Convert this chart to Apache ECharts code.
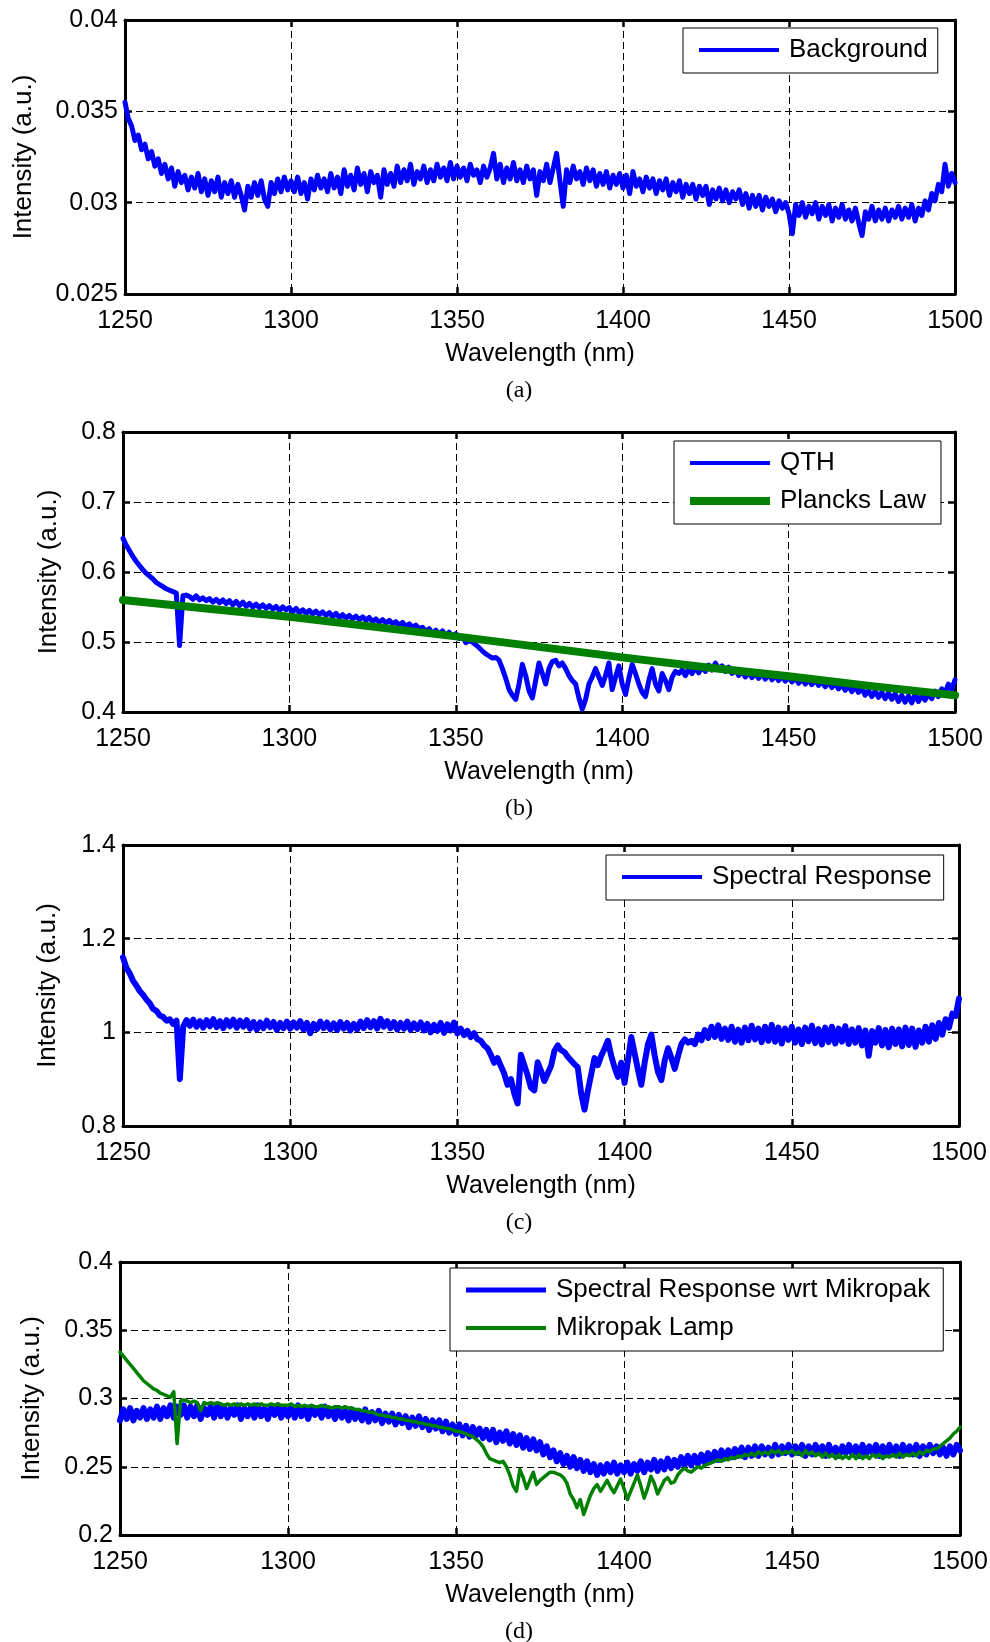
<!DOCTYPE html>
<html>
<head>
<meta charset="utf-8">
<title>Spectral response</title>
<script src="https://cdn.jsdelivr.net/npm/echarts@6/dist/echarts.min.js"></script>
<style>
  html, body { margin: 0; padding: 0; background: #fff; }
  #chart { width: 990px; height: 1642px; }
</style>
</head>
<body>
<div id="chart"></div>
<script>
// measured spectra are sampled every 1 nm from 1250 nm
var nmStart = 1250
var nmStep = 1
var xTicks = [1250, 1300, 1350, 1400, 1450, 1500]

// (a) background
var yTicksA = [0.025, 0.03, 0.035, 0.04]
var background = [
  0.0355, 0.0346, 0.0342, 0.0334, 0.0337, 0.0329, 0.0332, 0.0324, 0.0328, 0.0320,
  0.0324, 0.0316, 0.0321, 0.0313, 0.0319, 0.0309, 0.0317, 0.0311, 0.0315, 0.0307,
  0.0314, 0.0308, 0.0316, 0.0306, 0.0313, 0.0304, 0.0312, 0.0306, 0.0314, 0.0303,
  0.0311, 0.0305, 0.0312, 0.0303, 0.0310, 0.0304, 0.0296, 0.0309, 0.0303, 0.0311,
  0.0304, 0.0312, 0.0302, 0.0298, 0.0311, 0.0305, 0.0313, 0.0306, 0.0314, 0.0307,
  0.0312, 0.0306, 0.0314, 0.0305, 0.0311, 0.0302, 0.0313, 0.0307, 0.0315, 0.0308,
  0.0313, 0.0306, 0.0316, 0.0308, 0.0314, 0.0305, 0.0318, 0.0309, 0.0315, 0.0307,
  0.0319, 0.0310, 0.0316, 0.0306, 0.0317, 0.0311, 0.0315, 0.0303, 0.0318, 0.0310,
  0.0316, 0.0309, 0.0320, 0.0311, 0.0318, 0.0312, 0.0321, 0.0310, 0.0317, 0.0313,
  0.0320, 0.0311, 0.0318, 0.0312, 0.0321, 0.0314, 0.0319, 0.0312, 0.0322, 0.0313,
  0.0320, 0.0314, 0.0319, 0.0312, 0.0321, 0.0315, 0.0318, 0.0311, 0.0320, 0.0314,
  0.0319, 0.0327, 0.0313, 0.0321, 0.0311, 0.0319, 0.0313, 0.0322, 0.0312, 0.0318,
  0.0311, 0.0320, 0.0313, 0.0318, 0.0304, 0.0317, 0.0312, 0.0321, 0.0311, 0.0319,
  0.0327, 0.0312, 0.0298, 0.0318, 0.0311, 0.0320, 0.0313, 0.0317, 0.0310, 0.0319,
  0.0312, 0.0318, 0.0309, 0.0316, 0.0310, 0.0317, 0.0308, 0.0315, 0.0310, 0.0316,
  0.0308, 0.0315, 0.0305, 0.0317, 0.0309, 0.0313, 0.0306, 0.0314, 0.0308, 0.0313,
  0.0305, 0.0312, 0.0307, 0.0313, 0.0304, 0.0311, 0.0306, 0.0312, 0.0303, 0.0310,
  0.0305, 0.0310, 0.0302, 0.0309, 0.0304, 0.0309, 0.0299, 0.0307, 0.0302, 0.0308,
  0.0301, 0.0307, 0.0300, 0.0306, 0.0302, 0.0307, 0.0299, 0.0305, 0.0297, 0.0304,
  0.0298, 0.0304, 0.0296, 0.0303, 0.0298, 0.0302, 0.0295, 0.0301, 0.0297, 0.0300,
  0.0294, 0.0283, 0.0299, 0.0293, 0.0300, 0.0292, 0.0298, 0.0294, 0.0300, 0.0291,
  0.0298, 0.0293, 0.0299, 0.0290, 0.0297, 0.0292, 0.0299, 0.0291, 0.0296, 0.0290,
  0.0297, 0.0289, 0.0282, 0.0295, 0.0291, 0.0298, 0.0290, 0.0296, 0.0291, 0.0297,
  0.0290, 0.0296, 0.0292, 0.0298, 0.0291, 0.0297, 0.0292, 0.0299, 0.0290, 0.0297,
  0.0293, 0.0301, 0.0296, 0.0305, 0.0301, 0.0310, 0.0306, 0.0321, 0.0309, 0.0316,
  0.0311
]

// (b) QTH lamp and Planck's law fit
var yTicksB = [0.4, 0.5, 0.6, 0.7, 0.8]
var qth = [
  0.648, 0.638, 0.630, 0.622, 0.615, 0.609, 0.603, 0.598, 0.594, 0.590,
  0.585, 0.582, 0.579, 0.576, 0.574, 0.572, 0.570, 0.495, 0.566, 0.567,
  0.565, 0.561, 0.566, 0.560, 0.563, 0.559, 0.562, 0.557, 0.561, 0.556,
  0.560, 0.555, 0.559, 0.553, 0.558, 0.552, 0.557, 0.551, 0.555, 0.550,
  0.554, 0.549, 0.553, 0.548, 0.552, 0.547, 0.551, 0.545, 0.550, 0.546,
  0.549, 0.543, 0.548, 0.542, 0.546, 0.541, 0.545, 0.540, 0.544, 0.539,
  0.543, 0.538, 0.542, 0.536, 0.541, 0.535, 0.539, 0.534, 0.538, 0.533,
  0.537, 0.532, 0.536, 0.531, 0.535, 0.529, 0.533, 0.528, 0.532, 0.527,
  0.531, 0.526, 0.529, 0.524, 0.528, 0.522, 0.526, 0.521, 0.524, 0.519,
  0.521, 0.515, 0.519, 0.512, 0.517, 0.510, 0.516, 0.509, 0.514, 0.508,
  0.512, 0.505, 0.508, 0.499, 0.502, 0.500, 0.496, 0.492, 0.487, 0.483,
  0.480, 0.477, 0.478, 0.474, 0.462, 0.448, 0.432, 0.424, 0.418, 0.440,
  0.468, 0.452, 0.430, 0.420, 0.445, 0.470, 0.455, 0.440, 0.462, 0.472,
  0.474, 0.466, 0.470, 0.462, 0.452, 0.445, 0.440, 0.420, 0.404, 0.418,
  0.440, 0.450, 0.462, 0.450, 0.438, 0.452, 0.470, 0.432, 0.450, 0.466,
  0.440, 0.425, 0.448, 0.468, 0.455, 0.440, 0.428, 0.422, 0.445, 0.462,
  0.440, 0.430, 0.455, 0.445, 0.432, 0.450, 0.458, 0.455, 0.460, 0.452,
  0.462, 0.455, 0.463, 0.456, 0.465, 0.458, 0.467, 0.460, 0.470, 0.461,
  0.466, 0.458, 0.464, 0.455, 0.461, 0.452, 0.459, 0.450, 0.457, 0.449,
  0.456, 0.448, 0.455, 0.447, 0.454, 0.446, 0.452, 0.445, 0.451, 0.444,
  0.450, 0.443, 0.449, 0.441, 0.448, 0.440, 0.447, 0.439, 0.446, 0.438,
  0.444, 0.436, 0.443, 0.435, 0.441, 0.433, 0.440, 0.431, 0.438, 0.429,
  0.436, 0.428, 0.434, 0.424, 0.431, 0.422, 0.430, 0.421, 0.428, 0.419,
  0.427, 0.418, 0.426, 0.415, 0.424, 0.414, 0.423, 0.413, 0.425, 0.415,
  0.424, 0.417, 0.426, 0.419, 0.430, 0.422, 0.433, 0.427, 0.440, 0.432,
  0.446
]
var plancksNm = [1250, 1275, 1300, 1325, 1350, 1375, 1400, 1425, 1450, 1475, 1500]
var plancks = [0.560, 0.548, 0.536, 0.522, 0.508, 0.493, 0.478, 0.464, 0.451, 0.437, 0.424]

// (c) spectral response
var yTicksC = [0.8, 1.0, 1.2, 1.4]
var spectralResponse = [
  1.160, 1.138, 1.126, 1.110, 1.100, 1.088, 1.080, 1.070, 1.062, 1.050,
  1.046, 1.036, 1.033, 1.025, 1.028, 1.018, 1.025, 0.900, 1.012, 1.026,
  1.014, 1.027, 1.012, 1.024, 1.010, 1.026, 1.013, 1.028, 1.011, 1.024,
  1.009, 1.026, 1.013, 1.027, 1.010, 1.025, 1.012, 1.026, 1.008, 1.022,
  1.006, 1.021, 1.009, 1.025, 1.011, 1.022, 1.005, 1.020, 1.009, 1.023,
  1.008, 1.021, 1.010, 1.024, 1.006, 1.020, 0.998, 1.018, 1.007, 1.023,
  1.009, 1.021, 1.006, 1.019, 1.005, 1.022, 1.008, 1.020, 1.004, 1.018,
  1.006, 1.023, 1.009, 1.026, 1.011, 1.024, 1.008, 1.029, 1.012, 1.024,
  1.009, 1.022, 1.006, 1.020, 1.008, 1.023, 1.005, 1.019, 1.007, 1.021,
  1.004, 1.018, 1.000, 1.016, 1.003, 1.020, 0.999, 1.017, 1.004, 1.021,
  0.998, 1.008, 0.994, 1.003, 0.990, 0.998, 0.985, 0.982, 0.972, 0.966,
  0.952, 0.935, 0.945, 0.928, 0.912, 0.888, 0.900, 0.870, 0.848, 0.952,
  0.930, 0.908, 0.882, 0.876, 0.936, 0.918, 0.896, 0.912, 0.928, 0.960,
  0.972, 0.962, 0.958, 0.948, 0.940, 0.932, 0.925, 0.870, 0.835, 0.875,
  0.910, 0.945, 0.930, 0.950, 0.965, 0.982, 0.950, 0.925, 0.905, 0.935,
  0.892, 0.940, 0.990, 0.955, 0.920, 0.888, 0.935, 0.975, 0.995, 0.950,
  0.915, 0.898, 0.940, 0.966, 0.945, 0.922, 0.950, 0.975, 0.985, 0.978,
  0.982, 0.975, 0.995, 0.983, 1.005, 0.988, 1.012, 0.990, 1.015, 0.986,
  1.008, 0.984, 1.012, 0.980, 1.006, 0.978, 1.010, 0.983, 1.014, 0.985,
  1.008, 0.979, 1.012, 0.982, 1.016, 0.980, 1.010, 0.976, 1.008, 0.984,
  1.012, 0.978, 1.006, 0.975, 1.010, 0.981, 1.014, 0.977, 1.007, 0.974,
  1.010, 0.979, 1.012, 0.976, 1.008, 0.980, 1.013, 0.975, 1.006, 0.978,
  1.009, 0.972, 1.004, 0.950, 1.003, 0.978, 1.009, 0.972, 1.005, 0.968,
  1.008, 0.975, 1.006, 0.970, 1.010, 0.973, 1.008, 0.969, 1.004, 0.978,
  1.012, 0.980, 1.015, 0.986, 1.020, 0.995, 1.028, 1.010, 1.040, 1.035,
  1.072
]

// (d) response relative to the Mikropak lamp
var yTicksD = [0.2, 0.25, 0.3, 0.35, 0.4]
var responseMikropak = [
  0.284, 0.292, 0.285, 0.293, 0.284, 0.291, 0.286, 0.293, 0.285, 0.292,
  0.286, 0.294, 0.285, 0.293, 0.287, 0.295, 0.286, 0.294, 0.288, 0.295,
  0.286, 0.294, 0.287, 0.295, 0.285, 0.293, 0.288, 0.294, 0.286, 0.295,
  0.287, 0.294, 0.286, 0.293, 0.288, 0.295, 0.285, 0.293, 0.287, 0.294,
  0.286, 0.295, 0.287, 0.293, 0.285, 0.294, 0.288, 0.295, 0.286, 0.293,
  0.287, 0.294, 0.286, 0.295, 0.287, 0.293, 0.285, 0.294, 0.288, 0.293,
  0.286, 0.294, 0.287, 0.292, 0.285, 0.293, 0.286, 0.291, 0.284, 0.292,
  0.285, 0.291, 0.284, 0.292, 0.283, 0.290, 0.284, 0.291, 0.282, 0.289,
  0.283, 0.289, 0.281, 0.288, 0.282, 0.287, 0.279, 0.286, 0.280, 0.287,
  0.279, 0.285, 0.277, 0.284, 0.278, 0.284, 0.276, 0.283, 0.275, 0.281,
  0.274, 0.281, 0.273, 0.280, 0.272, 0.279, 0.273, 0.278, 0.271, 0.277,
  0.270, 0.277, 0.268, 0.275, 0.269, 0.276, 0.267, 0.274, 0.266, 0.273,
  0.264, 0.271, 0.263, 0.270, 0.262, 0.268, 0.259, 0.265, 0.257, 0.262,
  0.254, 0.260, 0.252, 0.258, 0.250, 0.257, 0.249, 0.255, 0.247, 0.254,
  0.246, 0.252, 0.244, 0.251, 0.245, 0.252, 0.246, 0.253, 0.245, 0.251,
  0.246, 0.253, 0.245, 0.252, 0.247, 0.254, 0.246, 0.253, 0.248, 0.255,
  0.247, 0.254, 0.248, 0.256, 0.249, 0.255, 0.250, 0.257, 0.251, 0.258,
  0.251, 0.258, 0.252, 0.259, 0.253, 0.260, 0.254, 0.261, 0.255, 0.262,
  0.256, 0.262, 0.257, 0.263, 0.258, 0.264, 0.257, 0.264, 0.258, 0.265,
  0.258, 0.265, 0.259, 0.264, 0.258, 0.266, 0.259, 0.265, 0.260, 0.266,
  0.259, 0.265, 0.260, 0.266, 0.258, 0.265, 0.259, 0.266, 0.260, 0.265,
  0.258, 0.266, 0.259, 0.264, 0.258, 0.265, 0.260, 0.266, 0.259, 0.265,
  0.258, 0.266, 0.259, 0.265, 0.260, 0.266, 0.258, 0.265, 0.259, 0.266,
  0.259, 0.265, 0.258, 0.266, 0.260, 0.265, 0.259, 0.266, 0.258, 0.265,
  0.259, 0.266, 0.260, 0.265, 0.259, 0.264, 0.258, 0.265, 0.259, 0.266,
  0.262
]
var mikropakLamp = [
  0.334, 0.331, 0.328, 0.325, 0.322, 0.319, 0.316, 0.313, 0.311, 0.309,
  0.307, 0.306, 0.304, 0.303, 0.302, 0.301, 0.305, 0.267, 0.298, 0.299,
  0.298, 0.297, 0.298, 0.297, 0.291, 0.297, 0.296, 0.297, 0.296, 0.297,
  0.296, 0.295, 0.296, 0.295, 0.296, 0.295, 0.296, 0.295, 0.296, 0.295,
  0.296, 0.295, 0.296, 0.295, 0.295, 0.296, 0.295, 0.296, 0.295, 0.295,
  0.295, 0.296, 0.294, 0.295, 0.294, 0.295, 0.294, 0.295, 0.294, 0.294,
  0.295, 0.294, 0.294, 0.293, 0.294, 0.294, 0.293, 0.294, 0.293, 0.293,
  0.292, 0.292, 0.291, 0.291, 0.290, 0.290, 0.289, 0.288, 0.288, 0.287,
  0.287, 0.286, 0.286, 0.285, 0.285, 0.284, 0.284, 0.283, 0.283, 0.282,
  0.282, 0.281, 0.281, 0.280, 0.280, 0.279, 0.279, 0.278, 0.278, 0.277,
  0.276, 0.276, 0.275, 0.274, 0.273, 0.272, 0.270, 0.268, 0.265, 0.260,
  0.256, 0.255, 0.254, 0.253, 0.254, 0.250, 0.244, 0.236, 0.232, 0.248,
  0.242, 0.234, 0.240, 0.246, 0.237, 0.240, 0.242, 0.244, 0.246, 0.246,
  0.245, 0.244, 0.242, 0.238, 0.230, 0.226, 0.220, 0.226, 0.215, 0.222,
  0.229, 0.234, 0.237, 0.232, 0.236, 0.240, 0.235, 0.231, 0.236, 0.241,
  0.234, 0.226, 0.232, 0.238, 0.244, 0.236, 0.227, 0.234, 0.243, 0.238,
  0.230, 0.235, 0.240, 0.242, 0.238, 0.239, 0.244, 0.247, 0.249, 0.247,
  0.246, 0.248, 0.250, 0.249, 0.251, 0.252, 0.253, 0.254, 0.255, 0.254,
  0.256, 0.255, 0.257, 0.256, 0.258, 0.257, 0.259, 0.258, 0.260, 0.258,
  0.261, 0.259, 0.261, 0.259, 0.262, 0.260, 0.262, 0.259, 0.261, 0.260,
  0.262, 0.259, 0.261, 0.258, 0.262, 0.259, 0.261, 0.258, 0.260, 0.257,
  0.260, 0.257, 0.259, 0.256, 0.259, 0.256, 0.258, 0.256, 0.259, 0.256,
  0.259, 0.256, 0.258, 0.256, 0.259, 0.257, 0.259, 0.256, 0.258, 0.257,
  0.259, 0.257, 0.260, 0.257, 0.259, 0.258, 0.260, 0.258, 0.261, 0.259,
  0.262, 0.261, 0.263, 0.263, 0.265, 0.267, 0.269, 0.271, 0.274, 0.276,
  0.279
]

var black = '#000'
var blue = '#0000ff'
var green = '#008000'
var sans = "'Liberation Sans', Arial, sans-serif"
var serif = "'Liberation Serif', 'Times New Roman', serif"

// panel layout (plot box in px), y ticks and y-name gap
var panels = [
  { grid: { left: 125, top: 20, width: 830, height: 274 }, ticks: yTicksA, nameGap: 88, caption: '(a)' },
  { grid: { left: 123, top: 432, width: 832, height: 280 }, ticks: yTicksB, nameGap: 61, caption: '(b)' },
  { grid: { left: 123, top: 845, width: 836, height: 281 }, ticks: yTicksC, nameGap: 62, caption: '(c)' },
  { grid: { left: 120, top: 1262, width: 840, height: 273 }, ticks: yTicksD, nameGap: 75, caption: '(d)' }
]

function onGrid(values) {
  return values.map(function (v, i) { return [nmStart + i * nmStep, v] })
}

// plain numbers: no thousands separator, no float noise
function plain(v) {
  return String(Math.round(v * 1e6) / 1e6)
}

function frameLine() {
  return { show: true, onZero: false, lineStyle: { color: black, width: 3 } }
}
function frameTick() {
  return { show: true, inside: true, length: 7, lineStyle: { color: black, width: 2.5 } }
}
function dashed() {
  return { show: true, lineStyle: { color: black, width: 1, type: [7, 4] } }
}

var xAxes = []
var yAxes = []
panels.forEach(function (p, g) {
  var xMin = xTicks[0], xMax = xTicks[xTicks.length - 1]
  var yMin = p.ticks[0], yMax = p.ticks[p.ticks.length - 1]
  xAxes.push({
    type: 'value', gridIndex: g, position: 'bottom',
    min: xMin, max: xMax, interval: xTicks[1] - xTicks[0],
    name: 'Wavelength (nm)', nameLocation: 'middle', nameGap: 48,
    nameTextStyle: { color: black, fontSize: 25, fontFamily: sans },
    axisLine: frameLine(), axisTick: frameTick(), splitLine: dashed(),
    axisLabel: { color: black, fontSize: 25, fontFamily: sans, margin: 15, formatter: plain }
  })
  xAxes.push({
    type: 'value', gridIndex: g, position: 'top',
    min: xMin, max: xMax, interval: xTicks[1] - xTicks[0],
    axisLine: frameLine(), axisTick: frameTick(),
    splitLine: { show: false }, axisLabel: { show: false }
  })
  yAxes.push({
    type: 'value', gridIndex: g, position: 'left',
    min: yMin, max: yMax, interval: p.ticks[1] - p.ticks[0],
    name: 'Intensity (a.u.)', nameLocation: 'middle', nameGap: p.nameGap,
    nameTextStyle: { color: black, fontSize: 26, fontFamily: sans },
    axisLine: frameLine(), axisTick: frameTick(), splitLine: dashed(),
    axisLabel: { color: black, fontSize: 25, fontFamily: sans, margin: 7, formatter: plain }
  })
  yAxes.push({
    type: 'value', gridIndex: g, position: 'right',
    min: yMin, max: yMax, interval: p.ticks[1] - p.ticks[0],
    axisLine: frameLine(), axisTick: frameTick(),
    splitLine: { show: false }, axisLabel: { show: false }
  })
})

function trace(name, g, data, color, width) {
  return {
    name: name, type: 'line', xAxisIndex: 2 * g, yAxisIndex: 2 * g,
    data: data, symbol: 'none', showSymbol: false, silent: true,
    lineStyle: { color: color, width: width, join: 'round', cap: 'round' },
    itemStyle: { color: color }
  }
}

// legend swatch: a bar `thick` px high inside an 85x16 box
function swatch(thick) {
  var a = (16 - thick) / 2, b = a + thick
  return 'path://M0,0M85,16M0,' + a + 'L80,' + a + 'L80,' + b + 'L0,' + b + 'Z'
}

function legendBox(left, top, padding, items) {
  return {
    orient: 'vertical', left: left, top: top, padding: padding, itemGap: 12,
    itemWidth: 85, itemHeight: 16, selectedMode: false,
    backgroundColor: '#fff', borderColor: black, borderWidth: 1, borderRadius: 0,
    textStyle: { color: black, fontSize: 26, fontFamily: sans },
    itemStyle: { borderWidth: 0 },
    data: items.map(function (it) { return { name: it[0], icon: swatch(it[1]) } })
  }
}

var option = {
  animation: false,
  backgroundColor: '#fff',
  grid: panels.map(function (p) {
    return Object.assign({ outerBoundsMode: 'none', containLabel: false }, p.grid)
  }),
  xAxis: xAxes,
  yAxis: yAxes,
  legend: [
    legendBox(683, 28, [9, 10, 10, 16], [['Background', 4]]),
    legendBox(674, 441, [9, 15, 10, 16], [['QTH', 4], ['Plancks Law', 8]]),
    legendBox(606, 855, [9, 12, 10, 16], [['Spectral Response', 4]]),
    legendBox(450, 1268, [9, 13, 10, 16], [['Spectral Response wrt Mikropak', 5], ['Mikropak Lamp', 4]])
  ],
  graphic: panels.map(function (p) {
    return {
      type: 'text', x: 519, y: p.grid.top + p.grid.height + 97,
      style: {
        text: p.caption, fill: black, font: '24px ' + serif,
        align: 'center', verticalAlign: 'middle',
        textAlign: 'center', textVerticalAlign: 'middle'
      }
    }
  }),
  series: [
    trace('Background', 0, onGrid(background), blue, 5),
    trace('QTH', 1, onGrid(qth), blue, 5),
    trace('Plancks Law', 1, plancksNm.map(function (x, i) { return [x, plancks[i]] }), green, 8),
    trace('Spectral Response', 2, onGrid(spectralResponse), blue, 6),
    trace('Spectral Response wrt Mikropak', 3, onGrid(responseMikropak), blue, 6),
    trace('Mikropak Lamp', 3, onGrid(mikropakLamp), green, 3.5)
  ]
}

var chart = echarts.init(document.getElementById('chart'))
chart.setOption(option)
</script>
</body>
</html>
